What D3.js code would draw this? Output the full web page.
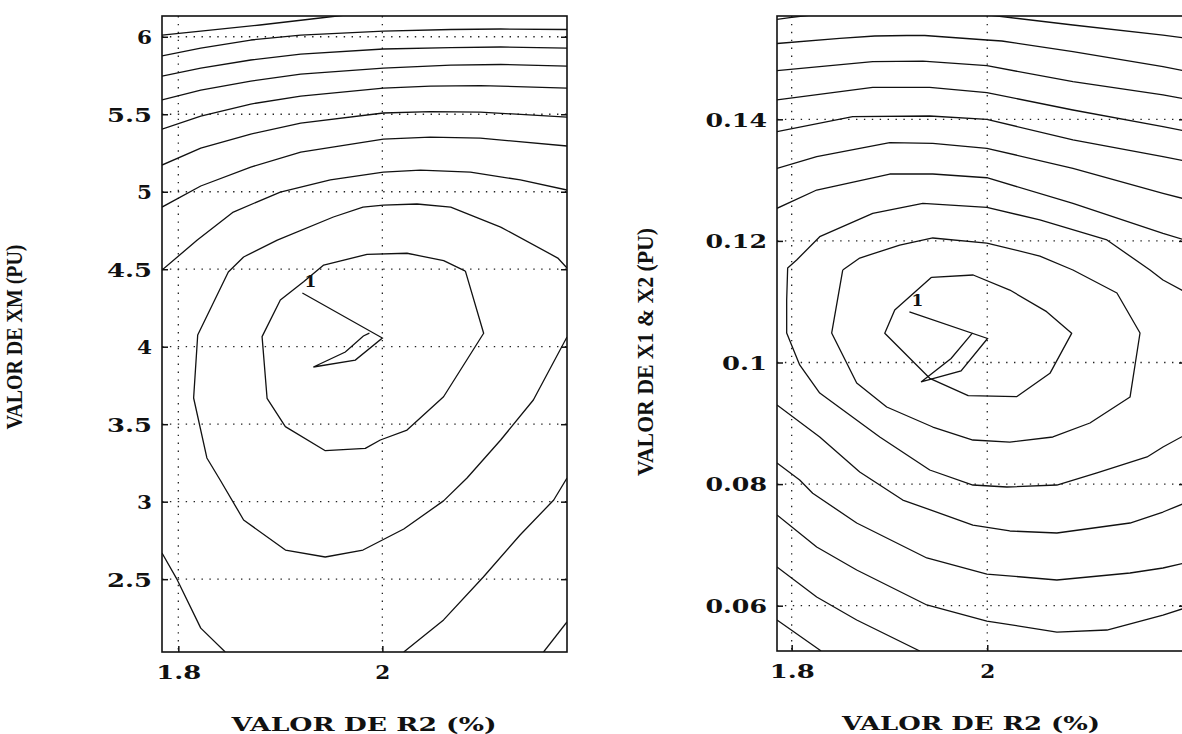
<!DOCTYPE html>
<html>
<head>
<meta charset="utf-8">
<script src="https://cdn.jsdelivr.net/npm/d3@7"></script>
<style>
  html, body { margin: 0; padding: 0; background: #fff; }
  svg { display: block; }
</style>
</head>
<body>
<svg id="chart" width="1182" height="734"></svg>
<script>
// ---------- shared axis data ----------
const r2Ticks = [1.8, 2];
const r2TickLabels = ["1.8", "2"];

// ---------- left panel: XM versus R2 ----------
const xmTicks = [2.5, 3, 3.5, 4, 4.5, 5, 5.5, 6];
const xmTickLabels = ["2.5", "3", "3.5", "4", "4.5", "5", "5.5", "6"];

// iso-lines of the error surface, [R2 %, XM pu]
const xmContours = [
  [[1.784,6.011],[1.822,6.037],[1.880,6.076],[1.939,6.121],[1.964,6.140]],
  [[1.784,5.876],[1.822,5.927],[1.871,5.979],[1.920,6.011],[2.001,6.037],[2.067,6.047],[2.116,6.050],[2.181,6.047]],
  [[1.784,5.746],[1.822,5.798],[1.871,5.850],[1.920,5.888],[2.001,5.921],[2.067,5.930],[2.116,5.934],[2.181,5.927]],
  [[1.784,5.592],[1.822,5.656],[1.871,5.714],[1.920,5.759],[2.001,5.798],[2.067,5.817],[2.116,5.821],[2.181,5.811]],
  [[1.784,5.404],[1.822,5.488],[1.871,5.566],[1.920,5.617],[2.001,5.669],[2.047,5.682],[2.096,5.685],[2.181,5.669]],
  [[1.784,5.172],[1.822,5.282],[1.871,5.372],[1.920,5.443],[2.001,5.508],[2.047,5.517],[2.096,5.514],[2.181,5.482]],
  [[1.784,4.901],[1.822,5.037],[1.871,5.159],[1.920,5.256],[2.001,5.340],[2.047,5.353],[2.096,5.346],[2.181,5.295]],
  [[1.784,4.495],[1.8186,4.688],[1.8539,4.869],[1.900,4.998],[1.949,5.076],[2.001,5.127],[2.0373,5.140],[2.0863,5.127],[2.1353,5.076],[2.181,5.011]],
  // open ring around the minimum, leaving through the right edge
  [[2.181,4.508],[2.172,4.572],[2.116,4.772],[2.067,4.901],[2.034,4.921],[2.001,4.914],[1.981,4.901],[1.952,4.837],[1.897,4.688],[1.864,4.579],[1.849,4.482],[1.819,4.076],[1.815,3.669],[1.828,3.282],[1.841,3.140],[1.864,2.882],[1.905,2.688],[1.944,2.643],[1.981,2.688],[2.021,2.824],[2.060,3.005],[2.083,3.153],[2.116,3.398],[2.148,3.656],[2.181,4.063]],
  // innermost closed ring
  [[2.0814,4.488],[2.0993,4.087],[2.060,3.677],[2.0242,3.462],[1.998,3.398],[1.9833,3.344],[1.9441,3.329],[1.9049,3.484],[1.887,3.667],[1.8821,4.065],[1.900,4.301],[1.9228,4.419],[1.9425,4.527],[1.985,4.596],[2.0242,4.603],[2.0601,4.555],[2.0814,4.488]],
  [[2.181,3.153],[2.168,3.011],[2.135,2.785],[2.099,2.514],[2.060,2.237],[2.021,2.030]],
  [[2.181,2.224],[2.158,2.030]],
  [[1.784,2.669],[1.799,2.495],[1.822,2.184],[1.846,2.030]]
];
// search path of the estimator, starting at iteration 1
const xmPath = [[1.9216,4.3465],[2.000,4.056],[1.9735,3.914],[1.9324,3.869],[1.9637,3.966],[1.9814,4.069],[1.9873,4.088]];

// ---------- right panel: X1 & X2 versus R2 ----------
const x12Ticks = [0.06, 0.08, 0.1, 0.12, 0.14];
const x12TickLabels = ["0.06", "0.08", "0.1", "0.12", "0.14"];

const x12Contours = [
  [[1.785,0.15645],[1.798,0.15674],[1.8154,0.15707],[1.8594,0.15765],[1.9105,0.15798],[1.9617,0.15773],[2.0008,0.15716],[2.0876,0.15551],[2.1797,0.15386],[2.2022,0.15337]],
  [[1.785,0.15247],[1.8491,0.15332],[1.885,0.15370],[1.9177,0.15378],[1.9361,0.15378],[1.9996,0.15304],[2.0149,0.15288],[2.0876,0.15112],[2.1797,0.14865],[2.2022,0.14794]],
  [[1.785,0.14799],[1.8829,0.14947],[1.9341,0.14958],[1.9996,0.14882],[2.0876,0.14618],[2.1797,0.14400],[2.2022,0.14334]],
  [[1.785,0.14318],[1.8829,0.14526],[1.9412,0.14526],[1.9996,0.14438],[2.0876,0.14153],[2.1797,0.13878],[2.2022,0.13807]],
  [[1.785,0.13796],[1.8624,0.14043],[1.9412,0.14054],[1.9996,0.14000],[2.0876,0.13660],[2.1797,0.13385],[2.2022,0.13314]],
  [[1.785,0.13194],[1.8256,0.13385],[1.9003,0.13615],[1.9443,0.13605],[1.9996,0.13523],[2.0876,0.13194],[2.1797,0.12783],[2.2022,0.12689]],
  [[1.785,0.12536],[1.8256,0.12837],[1.9003,0.13100],[1.9443,0.13100],[1.9996,0.13039],[2.0876,0.12618],[2.1797,0.12125],[2.2022,0.12015]],
  // open ring, leaving through the right edge
  [[2.2022,0.11160],[2.1797,0.11357],[2.1664,0.11521],[2.1224,0.12015],[2.0538,0.12344],[1.9996,0.12553],[1.9341,0.12618],[1.8829,0.12454],[1.8287,0.12069],[1.8051,0.11686],[1.7959,0.11554],[1.7949,0.11028],[1.7949,0.10485],[1.8082,0.09959],[1.8287,0.09498],[1.8594,0.09137],[1.8901,0.08775],[1.9412,0.08232],[1.9853,0.07985],[2.0201,0.07952],[2.0712,0.07985],[2.1122,0.08183],[2.1634,0.08446],[2.1797,0.08610],[2.2022,0.08808]],
  // closed rings around the minimum
  [[1.8522,0.11521],[1.8696,0.11718],[1.9105,0.11932],[1.9443,0.12048],[1.9996,0.11965],[2.0538,0.11751],[2.0876,0.11521],[2.1326,0.11143],[2.1562,0.10485],[2.1460,0.09432],[2.1050,0.09005],[2.0671,0.08775],[2.0231,0.08692],[1.9853,0.08725],[1.9443,0.08939],[1.8972,0.09268],[1.8665,0.09663],[1.8409,0.10485],[1.8522,0.11521]],
  [[1.9430,0.11401],[1.9856,0.11439],[2.0231,0.11192],[2.0607,0.10836],[2.0863,0.10480],[2.0641,0.09822],[2.0300,0.09438],[1.9805,0.09454],[1.9412,0.09740],[1.8952,0.10480],[1.9054,0.10864],[1.9430,0.11401]],
  [[1.785,0.09301],[1.8287,0.08775],[1.8696,0.08199],[1.9136,0.07738],[1.9853,0.07327],[2.0231,0.07229],[2.0712,0.07196],[2.1460,0.07360],[2.1797,0.07541],[2.2022,0.07689]],
  [[1.785,0.08347],[1.8082,0.08067],[1.8215,0.07850],[1.8665,0.07360],[1.9382,0.06785],[1.9996,0.06521],[2.0712,0.06423],[2.1460,0.06538],[2.1797,0.06620],[2.2022,0.06702]],
  [[1.785,0.07492],[1.8256,0.06965],[1.8665,0.06587],[1.9382,0.06012],[1.9996,0.05748],[2.0712,0.05567],[2.1224,0.05600],[2.1797,0.05847],[2.2022,0.05962]],
  [[1.785,0.06637],[1.8256,0.06143],[1.8665,0.05765],[1.9310,0.05255]],
  [[1.785,0.05765],[1.8287,0.05271],[1.8300,0.05255]]
];
const x12Path = [[1.9204,0.10833],[2.0003,0.10395],[1.9732,0.09862],[1.9323,0.09680],[1.9630,0.10066],[1.9850,0.10487]];

const r2Title = "VALOR DE R2 (%)";
const xmTitle = "VALOR DE XM (PU)";
const x12Title = "VALOR DE X1 & X2 (PU)";

// ---------- drawing ----------
const svg = d3.select("#chart");
svg.append("rect").attr("width", 1182).attr("height", 734).attr("fill", "#fff");

const labelFont = "'DejaVu Serif', serif";
const ink = "#111";

// width taken by a tick label: wide digits, narrower decimal point
function labelWidth(s) {
  let w = 0;
  for (const ch of s) w += ch === "." ? 12 : 15;
  return w + 1.5 * (s.length - 1);
}

function drawPanel(cfg) {
  const g = svg.append("g");
  const x = d3.scaleLinear().domain(cfg.xDomain).range([cfg.left, cfg.right]);
  const y = d3.scaleLinear().domain(cfg.yDomain).range([cfg.bottom, cfg.top]);

  g.append("clipPath").attr("id", cfg.id)
    .append("rect")
    .attr("x", cfg.left).attr("y", cfg.top)
    .attr("width", cfg.right - cfg.left).attr("height", cfg.bottom - cfg.top);

  const plot = g.append("g").attr("clip-path", `url(#${cfg.id})`);

  // dotted grid
  plot.selectAll("line.gx").data(cfg.xTicks).join("line")
    .attr("x1", d => x(d)).attr("x2", d => x(d))
    .attr("y1", cfg.top).attr("y2", cfg.bottom)
    .attr("stroke", "#222").attr("stroke-width", 1.3)
    .attr("stroke-dasharray", "1.4,6.5");
  plot.selectAll("line.gy").data(cfg.yTicks).join("line")
    .attr("y1", d => y(d)).attr("y2", d => y(d))
    .attr("x1", cfg.left).attr("x2", cfg.right)
    .attr("stroke", "#222").attr("stroke-width", 1.3)
    .attr("stroke-dasharray", "1.4,6.5");

  // contour lines
  const line = d3.line().x(d => x(d[0])).y(d => y(d[1]));
  plot.selectAll("path.contour").data(cfg.contours).join("path")
    .attr("class", "contour")
    .attr("d", line)
    .attr("fill", "none").attr("stroke", ink)
    .attr("stroke-width", 1.3).attr("stroke-linejoin", "round");

  // estimator path and its start label
  plot.append("path").datum(cfg.path)
    .attr("d", line)
    .attr("fill", "none").attr("stroke", ink)
    .attr("stroke-width", 1.3).attr("stroke-linejoin", "miter");
  plot.append("text")
    .attr("x", x(cfg.path[0][0])).attr("y", y(cfg.path[0][1]))
    .attr("dx", 8).attr("dy", -6)
    .attr("text-anchor", "middle")
    .attr("font-family", labelFont).attr("font-weight", "bold")
    .attr("font-size", 17).attr("fill", ink)
    .text("1");

  // frame
  g.append("rect")
    .attr("x", cfg.left).attr("y", cfg.top)
    .attr("width", cfg.right - cfg.left).attr("height", cfg.bottom - cfg.top)
    .attr("fill", "none").attr("stroke", ink).attr("stroke-width", 1.6);

  // axes with inward ticks
  const yAxis = d3.axisLeft(y).tickValues(cfg.yTicks)
    .tickFormat((d, i) => cfg.yLabels[i]).tickSizeInner(-6).tickSizeOuter(0).tickPadding(10);
  const ya = g.append("g").attr("transform", `translate(${cfg.left},0)`).call(yAxis);
  const yRight = d3.axisRight(y).tickValues(cfg.yTicks).tickFormat("").tickSizeInner(-6).tickSizeOuter(0);
  const yr = g.append("g").attr("transform", `translate(${cfg.right},0)`).call(yRight);
  const xAxis = d3.axisBottom(x).tickValues(cfg.xTicks)
    .tickFormat((d, i) => cfg.xLabels[i]).tickSizeInner(-6).tickSizeOuter(0).tickPadding(14);
  const xa = g.append("g").attr("transform", `translate(0,${cfg.bottom})`).call(xAxis);

  [ya, yr, xa].forEach(a => {
    a.select(".domain").remove();
    a.selectAll(".tick line").attr("stroke", ink).attr("stroke-width", 1.5);
    a.selectAll(".tick text")
      .attr("font-family", labelFont).attr("font-weight", "bold")
      .attr("font-size", 19).attr("fill", ink)
      .attr("lengthAdjust", "spacingAndGlyphs")
      .attr("textLength", function () { return labelWidth(this.textContent); });
  });
  ya.selectAll(".tick text").attr("dy", "0.36em");
  xa.selectAll(".tick text").attr("dy", "0.71em");

  // axis titles
  g.append("text")
    .attr("x", cfg.xTitleX).attr("y", cfg.xTitleY)
    .attr("text-anchor", "middle")
    .attr("font-family", labelFont).attr("font-weight", "bold")
    .attr("font-size", 19).attr("fill", ink)
    .attr("textLength", cfg.xTitleLen).attr("lengthAdjust", "spacingAndGlyphs")
    .text(cfg.xTitle);
  g.append("text")
    .attr("transform", `translate(${cfg.yTitleX},${cfg.yTitleY}) rotate(-90)`)
    .attr("text-anchor", "middle")
    .attr("font-family", "'Liberation Serif', serif").attr("font-weight", "bold")
    .attr("font-size", 23).attr("fill", ink)
    .attr("textLength", cfg.yTitleLen).attr("lengthAdjust", "spacingAndGlyphs")
    .text(cfg.yTitle);
}

drawPanel({
  id: "clip-xm",
  left: 162, right: 567, top: 16, bottom: 652,
  xDomain: [1.784, 2.181], yDomain: [2.030, 6.134],
  xTicks: r2Ticks, xLabels: r2TickLabels,
  yTicks: xmTicks, yLabels: xmTickLabels,
  contours: xmContours, path: xmPath,
  xTitle: r2Title, xTitleX: 364, xTitleY: 731, xTitleLen: 265,
  yTitle: xmTitle, yTitleX: 22, yTitleY: 337, yTitleLen: 185
});

drawPanel({
  id: "clip-x12",
  left: 777, right: 1185, top: 16, bottom: 651,
  xDomain: [1.785, 2.2022], yDomain: [0.05255, 0.15699],
  xTicks: r2Ticks, xLabels: r2TickLabels,
  yTicks: x12Ticks, yLabels: x12TickLabels,
  contours: x12Contours, path: x12Path,
  xTitle: r2Title, xTitleX: 971, xTitleY: 730, xTitleLen: 258,
  yTitle: x12Title, yTitleX: 653, yTitleY: 352, yTitleLen: 248
});
</script>
</body>
</html>
